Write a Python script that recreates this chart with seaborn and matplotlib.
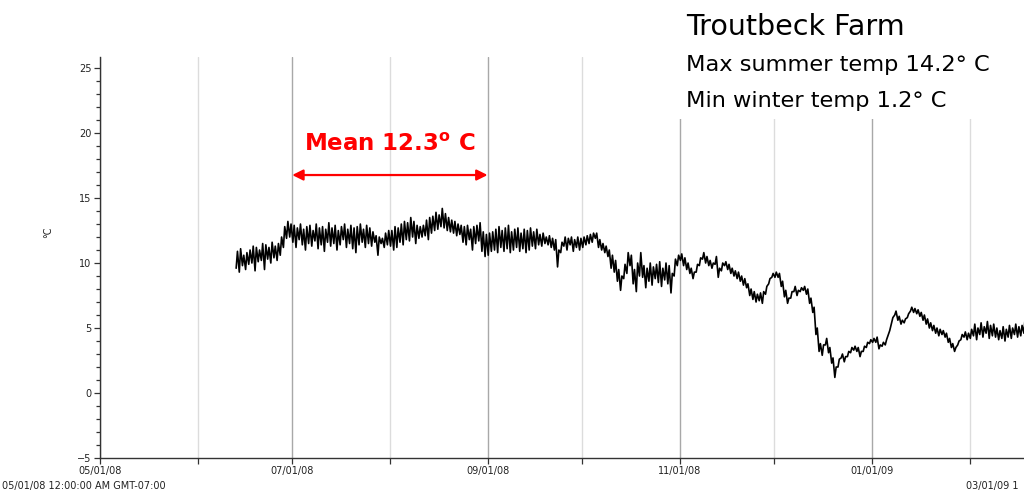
import numpy as np
import pandas as pd
import matplotlib
matplotlib.use("Agg")
import matplotlib.pyplot as plt
import matplotlib.dates as mdates
from matplotlib.patches import Rectangle
from matplotlib.ticker import MultipleLocator, FuncFormatter
import seaborn as sns

# ---------------------------------------------------------------------------
# Logger record: daily minimum and maximum water temperature (°C)
# ---------------------------------------------------------------------------
first_day = "2008-06-13"

daily_low = [
    # Jun 13-30
    9.6, 9.3, 9.8, 9.5, 9.9, 10.0, 9.4, 10.1, 10.2, 9.5, 10.3, 10.0, 10.4, 10.2, 10.6, 11.2, 11.9, 12.0,
    # Jul
    11.6, 11.2, 11.8, 11.4, 11.0, 11.5, 11.3, 11.7, 11.1, 11.4, 10.9, 11.6, 11.3, 11.5, 11.0, 11.4,
    11.8, 11.2, 11.5, 11.1, 10.8, 11.4, 11.6, 11.2, 11.5, 11.3, 11.6, 10.6, 11.5, 11.2, 11.4,
    # Aug
    11.3, 11.0, 11.2, 11.6, 11.4, 11.8, 11.7, 12.0, 11.5, 11.9, 12.0, 12.1, 11.8, 12.3, 12.5, 12.6,
    12.8, 12.7, 12.5, 12.4, 12.3, 12.1, 12.2, 11.6, 11.4, 11.8, 11.0, 11.5, 11.7, 10.9, 10.5,
    # Sep
    10.6, 10.9, 11.0, 10.8, 11.2, 10.9, 11.1, 10.8, 11.0, 11.2, 10.9, 11.1, 10.8, 11.0, 11.3,
    11.1, 11.4, 11.3, 11.5, 11.4, 11.2, 11.0, 9.7, 10.8, 11.3, 11.0, 11.4, 10.9, 11.2, 11.0,
    # Oct
    11.2, 11.4, 11.5, 11.6, 11.9, 11.2, 11.0, 10.8, 10.5, 9.6, 9.3, 8.6, 7.9, 8.8, 9.2, 9.8,
    8.4, 7.8, 9.0, 8.9, 8.1, 8.6, 8.3, 8.8, 8.5, 8.2, 8.7, 8.4, 7.7, 9.0, 9.8,
    # Nov
    10.2, 9.8, 9.5, 9.2, 8.8, 9.3, 9.8, 10.3, 10.0, 9.8, 9.6, 9.9, 8.9, 9.4, 9.8,
    9.5, 9.2, 9.0, 8.8, 8.6, 8.3, 8.1, 7.5, 7.2, 7.0, 7.1, 6.9, 7.6, 8.4, 8.9,
    # Dec
    8.9, 8.9, 8.2, 7.4, 6.9, 7.3, 7.8, 7.5, 7.8, 7.9, 7.6, 6.9, 6.2, 4.5, 3.2, 2.9,
    3.7, 3.1, 2.3, 1.2, 2.0, 2.7, 2.4, 2.8, 3.1, 3.3, 3.2, 2.8, 3.2, 3.5, 3.8,
    # Jan
    3.9, 3.9, 3.4, 3.6, 3.7, 4.5, 5.4, 6.0, 5.6, 5.3, 5.4, 5.8, 6.3, 6.2, 6.1, 5.9,
    5.6, 5.3, 5.0, 4.8, 4.6, 4.4, 4.5, 4.3, 3.9, 3.5, 3.2, 3.7, 4.1, 4.3, 4.1,
    # Feb 1-18
    4.2, 4.4, 4.1, 4.5, 4.3, 4.6, 4.2, 4.4, 4.3, 4.1, 4.2, 4.0, 4.3, 4.2, 4.5, 4.3, 4.4, 4.6,
]

daily_high = [
    # Jun 13-30
    10.9, 11.1, 10.6, 10.8, 11.0, 11.3, 11.2, 11.0, 11.5, 11.4, 11.2, 11.6, 11.3, 11.5, 12.0, 12.8, 13.2, 13.0,
    # Jul
    12.9, 12.7, 13.0, 12.6, 12.8, 12.9, 12.5, 13.0, 12.7, 12.8, 12.6, 13.1, 12.7, 12.9, 12.5, 12.8,
    13.0, 12.6, 12.9, 12.7, 12.8, 13.0, 12.6, 12.9, 12.7, 12.4, 12.1, 12.0, 11.9, 12.3, 12.5,
    # Aug
    12.5, 12.8, 12.7, 13.0, 13.2, 13.1, 13.5, 13.2, 12.9, 12.8, 12.9, 13.3, 13.5, 13.6, 13.9, 13.7,
    14.2, 13.8, 13.5, 13.3, 13.2, 13.0, 12.9, 12.8, 12.9, 12.6, 12.8, 12.9, 13.1, 12.4, 12.2,
    # Sep
    12.3, 12.4, 12.6, 12.8, 12.5, 12.7, 12.9, 12.4, 12.6, 12.7, 12.3, 12.6, 12.5, 12.7, 12.4,
    12.6, 12.2, 12.3, 12.0, 12.1, 11.9, 11.8, 11.0, 11.6, 12.0, 11.9, 12.0, 11.8, 12.0, 11.9,
    # Oct
    12.0, 12.1, 12.2, 12.3, 12.3, 11.8, 11.5, 11.3, 11.0, 10.6, 10.2, 9.5, 9.0, 9.9, 10.8, 10.6,
    9.5, 10.0, 10.8, 9.8, 9.6, 10.0, 9.7, 9.9, 10.1, 9.6, 10.0, 9.8, 9.2, 10.3, 10.6,
    # Nov
    10.7, 10.4, 10.0, 9.6, 9.3, 9.9, 10.4, 10.8, 10.5, 10.2, 10.0, 10.5, 9.6, 10.0, 10.1,
    9.9, 9.6, 9.4, 9.3, 9.0, 8.8, 8.4, 8.0, 7.8, 7.6, 7.7, 7.8, 8.2, 8.8, 9.2,
    # Dec
    9.3, 9.2, 8.6, 7.9, 7.3, 7.8, 8.2, 7.9, 8.1, 8.2, 8.0, 7.3, 6.6, 5.0, 3.8, 3.7,
    4.2, 3.5, 2.7, 2.0, 2.6, 3.0, 2.8, 3.2, 3.5, 3.6, 3.5, 3.2, 3.6, 3.9, 4.1,
    # Jan
    4.2, 4.3, 3.7, 3.9, 4.1, 4.8, 5.8, 6.3, 5.9, 5.6, 5.7, 6.1, 6.6, 6.5, 6.4, 6.2,
    6.0, 5.7, 5.4, 5.2, 5.0, 4.9, 4.8, 4.6, 4.2, 3.8, 3.5, 4.0, 4.5, 4.7, 4.6,
    # Feb 1-18
    4.9, 5.3, 5.0, 5.4, 5.1, 5.5, 5.2, 5.3, 5.0, 4.8, 5.1, 4.9, 5.2, 5.0, 5.3, 5.1, 5.2, 5.9,
]

axis_start = "2008-05-01"
axis_end = "2009-02-18 05:45"
labelled_months = [5, 7, 9, 11, 1]
y_range = (-5, 25.85)

title_lines = ["Troutbeck Farm", "Max summer temp 14.2° C", "Min winter temp 1.2° C"]
mean_text = r"Mean 12.3$^{\mathbf{o}}$ C"
mean_span = ("2008-07-01", "2008-09-01")
axis_start_label = "05/01/08 12:00:00 AM GMT-07:00"
axis_end_label = "03/01/09 1"

# ---------------------------------------------------------------------------
# Build the series: minimum early morning, maximum mid afternoon
# ---------------------------------------------------------------------------
days = pd.date_range(first_day, periods=len(daily_low), freq="D")
records = pd.DataFrame({
    "time": list(days + pd.Timedelta(hours=5)) + list(days + pd.Timedelta(hours=15)),
    "temp": daily_low + daily_high,
}).sort_values("time").reset_index(drop=True)

sns.set_theme(style="white")
plt.rcParams["font.family"] = ["DejaVu Sans"]

W, H = 1024, 495
fig = plt.figure(figsize=(W / 100, H / 100), dpi=100)
fig.patch.set_facecolor("white")
ax = fig.add_axes([100 / W, 37 / H, 924 / W, 401 / H])
ax.set_facecolor("white")

# month grid lines: darker for labelled months
for m in pd.date_range(axis_start, "2009-03-01", freq="MS"):
    shade = "#a8a8a8" if m.month in labelled_months else "#dcdcdc"
    ax.axvline(m, color=shade, lw=1.0, zorder=0)

sns.lineplot(data=records, x="time", y="temp", ax=ax, color="black",
             linewidth=1.2, estimator=None, sort=True, zorder=3)

ax.set_xlim(pd.Timestamp(axis_start), pd.Timestamp(axis_end))
ax.set_ylim(*y_range)
ax.set_xlabel("")
ax.set_ylabel("")

for side in ("top", "right"):
    ax.spines[side].set_visible(False)
for side in ("left", "bottom"):
    ax.spines[side].set_color("#333333")
    ax.spines[side].set_linewidth(1.0)

ax.yaxis.set_major_locator(MultipleLocator(5))
ax.yaxis.set_minor_locator(MultipleLocator(1))
ax.xaxis.set_major_locator(mdates.MonthLocator())


def month_label(v, pos):
    d = mdates.num2date(v)
    return d.strftime("%m/%d/%y") if d.month in labelled_months else ""


ax.xaxis.set_major_formatter(FuncFormatter(month_label))
ax.tick_params(axis="both", which="major", direction="out", length=4.5, width=0.9,
               color="#333333", labelsize=7, labelcolor="#222222", pad=1.5,
               left=True, bottom=True)
ax.tick_params(axis="y", which="minor", direction="out", length=3, width=0.9,
               color="#333333", left=True)

fig.text(48 / W, 1 - 232 / H, "°C", rotation=90, fontsize=7, color="#222222",
         ha="center", va="center")
fig.text(2 / W, 1 - 486 / H, axis_start_label, fontsize=7, color="#222222",
         ha="left", va="center")
fig.text(966 / W, 1 - 486 / H, axis_end_label, fontsize=7, color="#222222",
         ha="left", va="center")

# mean annotation with span arrow
span0, span1 = pd.Timestamp(mean_span[0]), pd.Timestamp(mean_span[1])
ax.annotate("", xy=(span1, 16.77), xytext=(span0, 16.77),
            arrowprops=dict(arrowstyle="<|-|>", color="red", lw=1.6,
                            mutation_scale=16, shrinkA=0, shrinkB=0), zorder=4)
ax.text(span0 + (span1 - span0) / 2, 19.1, mean_text, color="red",
        fontsize=16.5, fontweight="bold", ha="center", va="center", zorder=4)

# site summary block on a white panel
fig.add_artist(Rectangle((672 / W, 1 - 119 / H), 352 / W, 119 / H,
                         transform=fig.transFigure, facecolor="white",
                         edgecolor="none", zorder=5))
baselines = [35, 71, 107]
sizes = [20.5, 16.2, 16.2]
for line, base, size in zip(title_lines, baselines, sizes):
    fig.text(686 / W, 1 - base / H, line, fontsize=size, color="black",
             ha="left", va="baseline", zorder=6)

fig.savefig("out.png", dpi=100)
